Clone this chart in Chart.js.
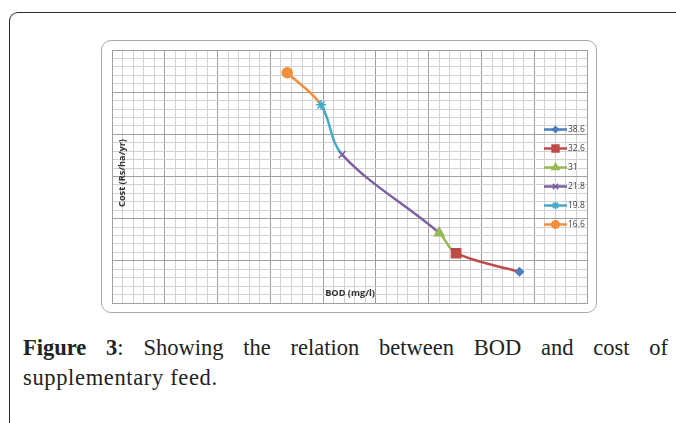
<!DOCTYPE html>
<html>
<head>
<meta charset="utf-8">
<script src="https://cdn.jsdelivr.net/npm/chart.js@4.4.1/dist/chart.umd.min.js"></script>
<style>
  html, body { margin: 0; padding: 0; background: #fff; overflow: hidden; }
  body { width: 676px; height: 423px; position: relative; }
  .page-frame {
    position: absolute; left: 9px; top: 12px; width: 720px; height: 460px;
    border-left: 1.5px solid #2a2a2a; border-top: 1.5px solid #2a2a2a;
    border-top-left-radius: 9px;
  }
  .chart-box {
    position: absolute; left: 101px; top: 40px; width: 494px; height: 271px;
    border: 1.5px solid #a9a9a9; border-radius: 10px; background: #fff;
  }
  .chart-box canvas { position: absolute; left: 0; top: 0; }
  .caption {
    position: absolute; left: 23px; top: 333px; width: 645px;
    font-family: "Liberation Serif", "DejaVu Serif", serif; font-size: 22.5px; line-height: 30px;
    color: #222;
  }
  .caption .l1 { text-align: justify; text-align-last: justify; white-space: nowrap; }
  .caption .l2 { letter-spacing: 0.65px; }
  .caption b { font-weight: bold; }
</style>
</head>
<body>
<div class="page-frame"></div>
<div class="chart-box"><canvas id="bod-chart" width="494" height="271"></canvas></div>
<div class="caption">
  <div class="l1"><b>Figure 3</b>: Showing the relation between BOD and cost of</div>
  <div class="l2">supplementary feed.</div>
</div>

<script>
// ---- data ----
const bodValues = [38.6, 32.6, 31, 21.8, 19.8, 16.6];      // x, mg/l
const costValues = [370, 590, 830, 1760, 2350, 2730];       // y, Rs/ha/yr (no tick labels in source)
const legendLabels = ['38.6', '32.6', '31', '21.8', '19.8', '16.6'];

const pointColors = ['#4a7ebb', '#be4b48', '#98b954', '#7d60a0', '#46aac5', '#f38e3d'];
const pointStyles = ['rectRot', 'rect', 'triangle', 'crossRot', 'star', 'circle'];
const pointSizes = [4, 6.5, 5.5, 5, 5, 5];

const MINOR = '#d2d2d2';
const MAJOR = '#a0a0a0';

// axis titles + legend sit inside the plot area, like the Excel original
const overlayPlugin = {
  id: 'overlay',
  afterDatasetsDraw(chart) {
    const { ctx } = chart;
    ctx.save();
    ctx.fillStyle = '#333';
    ctx.font = 'bold 9.2px "Open Sans", sans-serif';
    ctx.textAlign = 'center';
    ctx.textBaseline = 'middle';
    ctx.fillText('BOD (mg/l)', 349 - 101, 292 - 40);
    ctx.translate(121 - 101, 172 - 40);
    ctx.rotate(-Math.PI / 2);
    ctx.fillText('Cost (Rs/ha/yr)', 0, 0);
    ctx.restore();

    // legend
    ctx.save();
    ctx.font = '8.5px "Open Sans", sans-serif';
    ctx.textAlign = 'left';
    ctx.textBaseline = 'middle';
    legendLabels.forEach((lbl, i) => {
      const y = 128.5 - 40 + i * 19;
      const x0 = 543 - 101, x1 = 566 - 101;
      ctx.strokeStyle = pointColors[i];
      ctx.lineWidth = 2.5;
      ctx.beginPath();
      ctx.moveTo(x0, y);
      ctx.lineTo(x1, y);
      ctx.stroke();
      ctx.fillStyle = pointColors[i];
      ctx.lineWidth = 1.5;
      Chart.helpers.drawPoint(ctx, { pointStyle: pointStyles[i], radius: pointSizes[i] * 0.75, rotation: 0, borderWidth: 1.5 }, (x0 + x1) / 2, y);
      ctx.fill();
      ctx.fillStyle = '#404040';
      ctx.fillText(lbl, x1 + 1, y + 0.5);
    });
    ctx.restore();
  }
};

new Chart(document.getElementById('bod-chart'), {
  type: 'scatter',
  data: {
    datasets: [{
      label: 'BOD vs cost',
      data: bodValues.map((x, i) => ({ x, y: costValues[i] })),
      showLine: true,
      tension: 0.35,
      borderWidth: 2.5,
      segment: {
        borderColor: c => pointColors[c.p1DataIndex]
      },
      pointStyle: pointStyles,
      pointRadius: pointSizes,
      pointBackgroundColor: pointColors,
      pointBorderColor: pointColors,
      pointBorderWidth: 1.5,
      pointHoverRadius: pointSizes
    }]
  },
  options: {
    responsive: false,
    animation: false,
    layout: { padding: { left: 10, right: 9, top: 9, bottom: 9 } },
    plugins: { legend: { display: false }, tooltip: { enabled: false } },
    scales: {
      x: {
        type: 'linear', min: 0, max: 45,
        ticks: { display: false, stepSize: 1 },
        grid: { drawTicks: false, color: c => (c.tick && c.tick.value % 5 === 0) ? MAJOR : MINOR },
        border: { display: true, color: MAJOR }
      },
      y: {
        type: 'linear', min: 0, max: 3000,
        ticks: { display: false, stepSize: 100 },
        grid: { drawTicks: false, color: c => (c.tick && c.tick.value % 500 === 0) ? MAJOR : MINOR },
        border: { display: true, color: MAJOR }
      }
    }
  },
  plugins: [overlayPlugin]
});
</script>
</body>
</html>
